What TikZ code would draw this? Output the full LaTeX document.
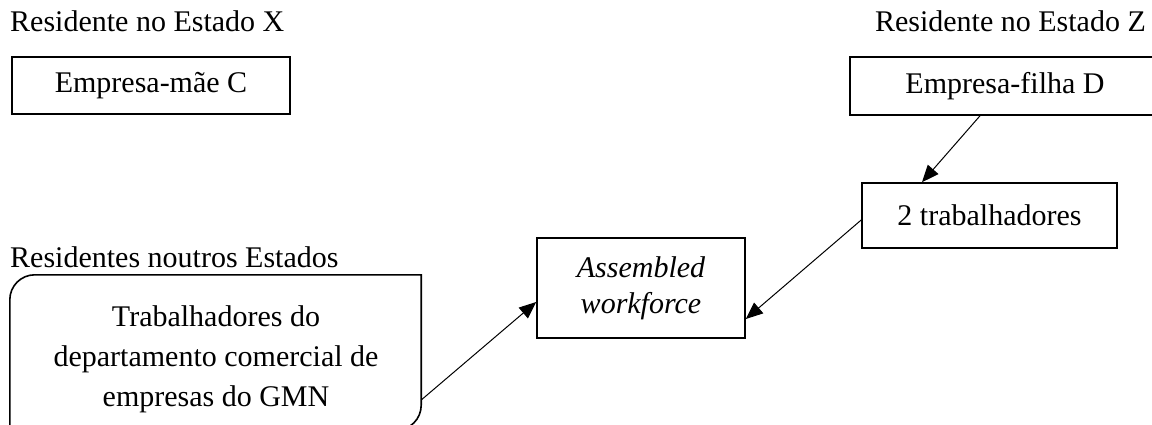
\documentclass[tikz,border=0pt]{standalone}
\usepackage{fontspec}
\setmainfont{Liberation Serif}
\usepackage{tikz}
\usetikzlibrary{positioning, arrows.meta}
\tikzstyle{box} = [rectangle, draw, line width=1.6pt, inner sep=0pt]
\tikzstyle{frame} = [rectangle, inner sep=0pt]
\tikzstyle{place} = [inner sep=0pt]
\tikzstyle{link} = [->, line width=1pt]
\AtBeginDocument{\fontsize{30pt}{36pt}\selectfont}

\begin{document}
\begin{tikzpicture}[x=1pt, y=-1pt, >={Triangle[length=17pt, width=14pt]}]
\path[use as bounding box, clip] (0,0) rectangle (1152,424);
\node[place, anchor=base west] (stx) at (10,31) {Residente no Estado X};
\node[place, anchor=base east] (stz) at (1146,31) {Residente no Estado Z};
\node[place, anchor=base west] (sto) at (10,267) {Residentes noutros Estados};
\node[box, minimum width=278pt, minimum height=57pt] (mae) at (151,85.5) {Empresa-mãe C};
\node[box, minimum width=310pt, minimum height=58pt] (filha) at (1005,86) {Empresa-filha D};
\node[box, minimum width=255pt, minimum height=65pt] (trab) at (989.5,215.5) {2 trabalhadores};
\node[box, minimum width=208pt, minimum height=100pt, align=center, font=\itshape] (aw) at (641,288) {Assembled\\workforce};
\node[frame, minimum width=411pt, minimum height=155pt] (gmn) at (215.5,352.5) {};
\node[place, align=center, font=\fontsize{30pt}{40pt}\selectfont] (gmntxt) at (216,359) {Trabalhadores do\\departamento comercial de\\empresas do GMN};
\draw[line width=1.6pt] (gmn.north east) -- ([xshift=25pt]gmn.north west)
  arc[start angle=90, end angle=180, radius=25pt] -- (gmn.south west)
  -- ([xshift=-25pt]gmn.south east) arc[start angle=-90, end angle=0, radius=25pt] -- cycle;
\draw[link] ([xshift=-25pt]filha.south) -- ([xshift=-67.5pt]trab.north);
\draw[link] ([yshift=-4.5pt]trab.west) -- ([yshift=-31pt]aw.east);
\draw[link] ([yshift=-47.5pt]gmn.east) -- ([yshift=-14pt]aw.west);
\end{tikzpicture}
\end{document}
